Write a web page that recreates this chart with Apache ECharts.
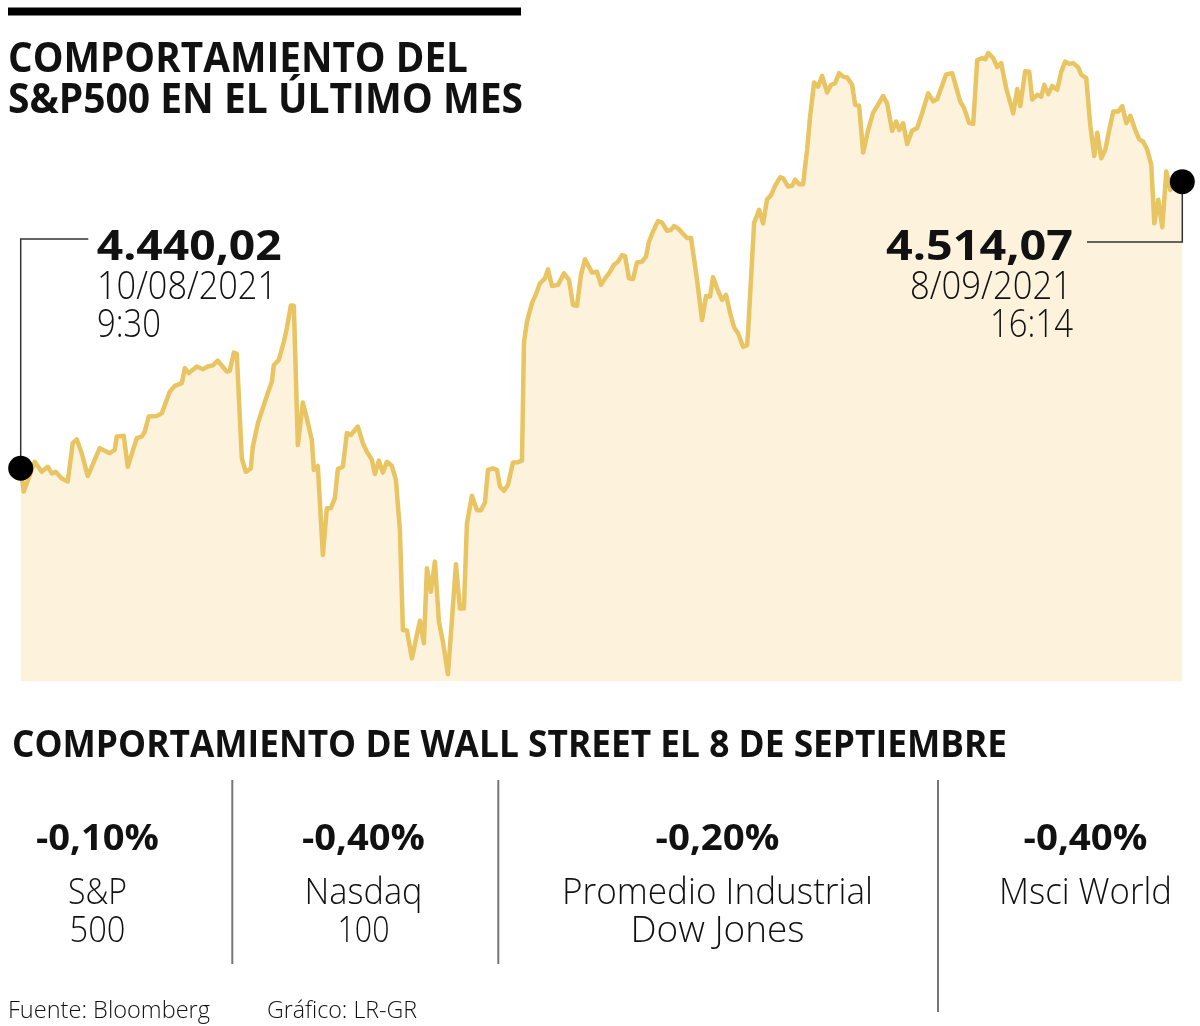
<!DOCTYPE html>
<html>
<head>
<meta charset="utf-8">
<script src="https://cdn.jsdelivr.net/npm/echarts@6/dist/echarts.min.js"></script>
<style>
html, body { margin: 0; padding: 0; background: #fff; }
#chart { width: 1200px; height: 1026px; }
</style>
</head>
<body>
<div id="chart"></div>
<script>
// posicion intradia (10/08/2021 9:30 -> 8/09/2021 16:14)
var minutos = [0,3,14,21,27,31,35,41,47,52,56,61,67,79,89,94,96,103,107,116,
  121,124,128,136,141,149,154,161,164,168,176,182,187,192,197,206,209,213,216,221,
  225,230,232,237,242,246,251,253,258,263,266,270,273,277,282,286,291,293,297,302,
  306,310,314,317,322,326,330,337,342,346,351,354,358,362,366,371,375,379,382,386,
  391,399,403,406,410,414,418,422,427,431,435,439,443,446,451,456,460,464,467,472,
  476,479,483,487,492,497,501,503,506,511,515,519,524,527,531,537,543,548,552,556,
  560,564,571,576,580,585,588,593,597,601,604,608,612,616,621,625,628,632,637,641,
  646,650,653,657,662,666,670,676,681,685,689,692,696,701,705,709,713,717,722,726,
  727,733,738,742,746,750,754,759,762,767,771,774,778,782,786,789,793,797,801,806,
  810,814,818,822,826,831,834,838,842,847,852,856,862,866,871,875,878,882,886,891,
  896,901,907,912,916,925,931,939,943,948,952,956,961,964,967,972,976,980,985,992,
  996,999,1004,1008,1011,1016,1020,1023,1027,1031,1036,1040,1044,1048,1052,1057,1060,1065,1069,1073,
  1076,1080,1084,1088,1092,1097,1101,1105,1109,1114,1118,1122,1126,1130,1133,1137,1141,1145,1149,1152,
  1161];

var cierre = [4440.02,4434.0,4441.7,4439.1,4440.4,4438.7,4439.1,4437.4,4436.6,4446.5,
  4447.5,4443.9,4438.0,4445.2,4443.9,4444.8,4448.2,4448.4,4440.4,4447.8,
  4448.2,4449.5,4453.4,4453.5,4454.2,4459.8,4461.3,4462.0,4465.9,4464.6,
  4466.3,4465.6,4466.3,4466.6,4467.8,4465.0,4465.2,4469.9,4469.6,4442.6,
  4439.1,4440.0,4445.6,4451.6,4455.6,4458.7,4462.4,4466.7,4468.0,4472.7,
  4476.2,4482.1,4482.0,4446.0,4457.0,4452.9,4447.3,4439.6,4440.6,4417.6,
  4429.7,4429.7,4432.3,4439.8,4440.4,4449.1,4448.6,4450.8,4446.5,4444.3,
  4442.2,4438.5,4442.0,4438.9,4441.7,4440.6,4437.0,4424.1,4398.2,4398.1,
  4390.9,4400.6,4394.8,4414.2,4408.1,4415.9,4400.4,4395.2,4386.8,4400.8,
  4415.2,4403.8,4403.8,4425.8,4432.9,4429.2,4429.2,4431.1,4439.6,4440.0,
  4439.6,4435.3,4434.2,4435.7,4441.5,4441.6,4442.0,4472.5,4477.9,4482.7,
  4485.0,4487.8,4489.1,4491.4,4487.1,4487.4,4490.4,4488.7,4482.2,4482.0,
  4490.0,4494.0,4490.6,4490.8,4487.4,4489.4,4490.4,4492.6,4493.4,4495.1,
  4494.9,4489.1,4488.9,4493.2,4493.4,4494.7,4498.6,4501.2,4503.9,4503.5,
  4501.4,4501.6,4502.6,4502.0,4500.6,4499.5,4499.5,4488.7,4478.3,4484.5,
  4484.4,4489.4,4486.5,4483.5,4484.8,4480.2,4476.4,4474.9,4471.4,4471.8,
  4475.2,4503.4,4506.8,4503.3,4509.5,4510.6,4513.0,4515.2,4515.0,4512.8,
  4513.0,4514.6,4513.4,4513.4,4522.3,4530.9,4539.7,4538.6,4541.4,4537.1,
  4539.1,4539.5,4542.1,4541.2,4541.0,4539.1,4533.9,4533.7,4521.6,4527.4,
  4531.9,4533.6,4536.2,4534.3,4527.2,4529.6,4527.4,4529.2,4523.8,4527.3,
  4527.9,4531.8,4536.9,4534.8,4535.4,4541.8,4542.1,4534.8,4533.0,4529.2,
  4529.0,4545.5,4546.0,4545.7,4547.3,4546.0,4543.7,4544.7,4538.2,4531.7,
  4538.0,4533.6,4542.6,4542.5,4535.3,4536.5,4536.0,4539.1,4536.7,4538.8,
  4537.8,4542.5,4545.1,4544.5,4544.7,4543.6,4541.7,4540.8,4528.7,4520.7,
  4526.7,4520.1,4522.3,4527.4,4532.2,4532.2,4533.6,4529.2,4531.1,4527.4,
  4525.0,4524.4,4522.3,4518.4,4503.3,4509.4,4502.3,4516.7,4511.9,4513.2,
  4514.07];

var titulo = ['COMPORTAMIENTO DEL', 'S&P500 EN EL ÚLTIMO MES'];
var inicio = ['4.440,02', '10/08/2021', '9:30'];
var fin = ['4.514,07', '8/09/2021', '16:14'];
var subtitulo = 'COMPORTAMIENTO DE WALL STREET EL 8 DE SEPTIEMBRE';
var variaciones = ['-0,10%', '-0,40%', '-0,20%', '-0,40%'];
var indices1 = ['S&P', 'Nasdaq', 'Promedio Industrial', 'Msci World'];
var indices2 = ['500', '100', 'Dow Jones', ''];
var pie = ['Fuente: Bloomberg', 'Gráfico: LR-GR'];

var serie = minutos.map(function (m, i) { return [m, cierre[i]]; });
var extremos = [serie[0], serie[serie.length - 1]];

var myChart = echarts.init(document.getElementById('chart'));

myChart.setOption({
    animation: false,
    grid: { left: 20.7, right: 17.7, top: 42.6, bottom: 344.8 },
    xAxis: { type: 'value', min: 0, max: 1161, show: false },
    yAxis: { type: 'value', min: 4385, max: 4550, show: false },
    series: [{
        type: 'line',
        data: serie,
        showSymbol: false,
        lineStyle: { color: '#e9c463', width: 4.5, join: 'round' },
        areaStyle: { color: '#fdf3dc', opacity: 1, origin: 'start' },
        z: 2
    }, {
        type: 'scatter',
        data: extremos,
        symbolSize: 25,
        itemStyle: { color: '#000', opacity: 1 },
        clip: false,
        z: 50
    }]
});

// medir texto para ajustar el ancho al original
var ctx = document.createElement('canvas').getContext('2d');
function txt(s, x, y, size, weight, align, w) {
    var font = weight + ' ' + size + 'px "Open Sans"';
    ctx.font = font;
    var sx = w ? w / ctx.measureText(s).width : 1;
    return {
        type: 'text', x: x, y: y + 3, scaleX: sx, silent: true, z: 60,
        style: { text: s, x: 0, y: 0, font: font, fill: '#111',
            align: align, verticalAlign: 'middle', textAlign: align, textVerticalAlign: 'middle' }
    };
}
function linea(pts, color, width) {
    return { type: 'polyline', silent: true, z: 40,
        shape: { points: pts }, style: { stroke: color, lineWidth: width, fill: null } };
}

var p0 = myChart.convertToPixel({ gridIndex: 0 }, extremos[0]);
var p1 = myChart.convertToPixel({ gridIndex: 0 }, extremos[1]);

var els = [
    { type: 'rect', shape: { x: 8, y: 7.5, width: 513, height: 8 }, style: { fill: '#000' }, silent: true },
    txt(titulo[0], 8, 57, 42, 700, 'left', 460),
    txt(titulo[1], 8, 98.5, 42, 700, 'left', 515),
    linea([[88.3, 239], [p0[0], 239], [p0[0], p0[1]]], '#333', 1.5),
    linea([[1087, 242], [p1[0], 242], [p1[0], p1[1]]], '#333', 1.5),
    txt(inicio[0], 96.7, 245, 42, 700, 'left', 185),
    txt(inicio[1], 97, 285.5, 38, 300, 'left', 180),
    txt(inicio[2], 97, 323.5, 38, 300, 'left', 64),
    txt(fin[0], 1073, 245, 42, 700, 'right', 187),
    txt(fin[1], 1072, 285.5, 38, 300, 'right', 162),
    txt(fin[2], 1073, 323.5, 38, 300, 'right', 83),
    txt(subtitulo, 12, 743, 38, 700, 'left', 995),
    linea([[232.3, 780], [232.3, 964]], '#777', 2),
    linea([[498.3, 780], [498.3, 964]], '#777', 2),
    linea([[938, 780], [938, 1012]], '#777', 2),
    txt(pie[0], 8, 1008, 24, 300, 'left', 202),
    txt(pie[1], 267, 1008, 24, 300, 'left', 150)
];

var colX = [97.5, 363.5, 717.5, 1085.5];
var anchoVar = [123, 123, 124, 124];
var ancho1 = [59, 118, 311, 173];
var ancho2 = [56, 52, 174, 0];
for (var i = 0; i < variaciones.length; i++) {
    els.push(txt(variaciones[i], colX[i], 837.5, 35, 700, 'center', anchoVar[i]));
    els.push(txt(indices1[i], colX[i], 890, 37, 300, 'center', ancho1[i]));
    if (indices2[i]) els.push(txt(indices2[i], colX[i], 928, 37, 300, 'center', ancho2[i]));
}

myChart.setOption({ graphic: { elements: els } });
</script>
</body>
</html>
